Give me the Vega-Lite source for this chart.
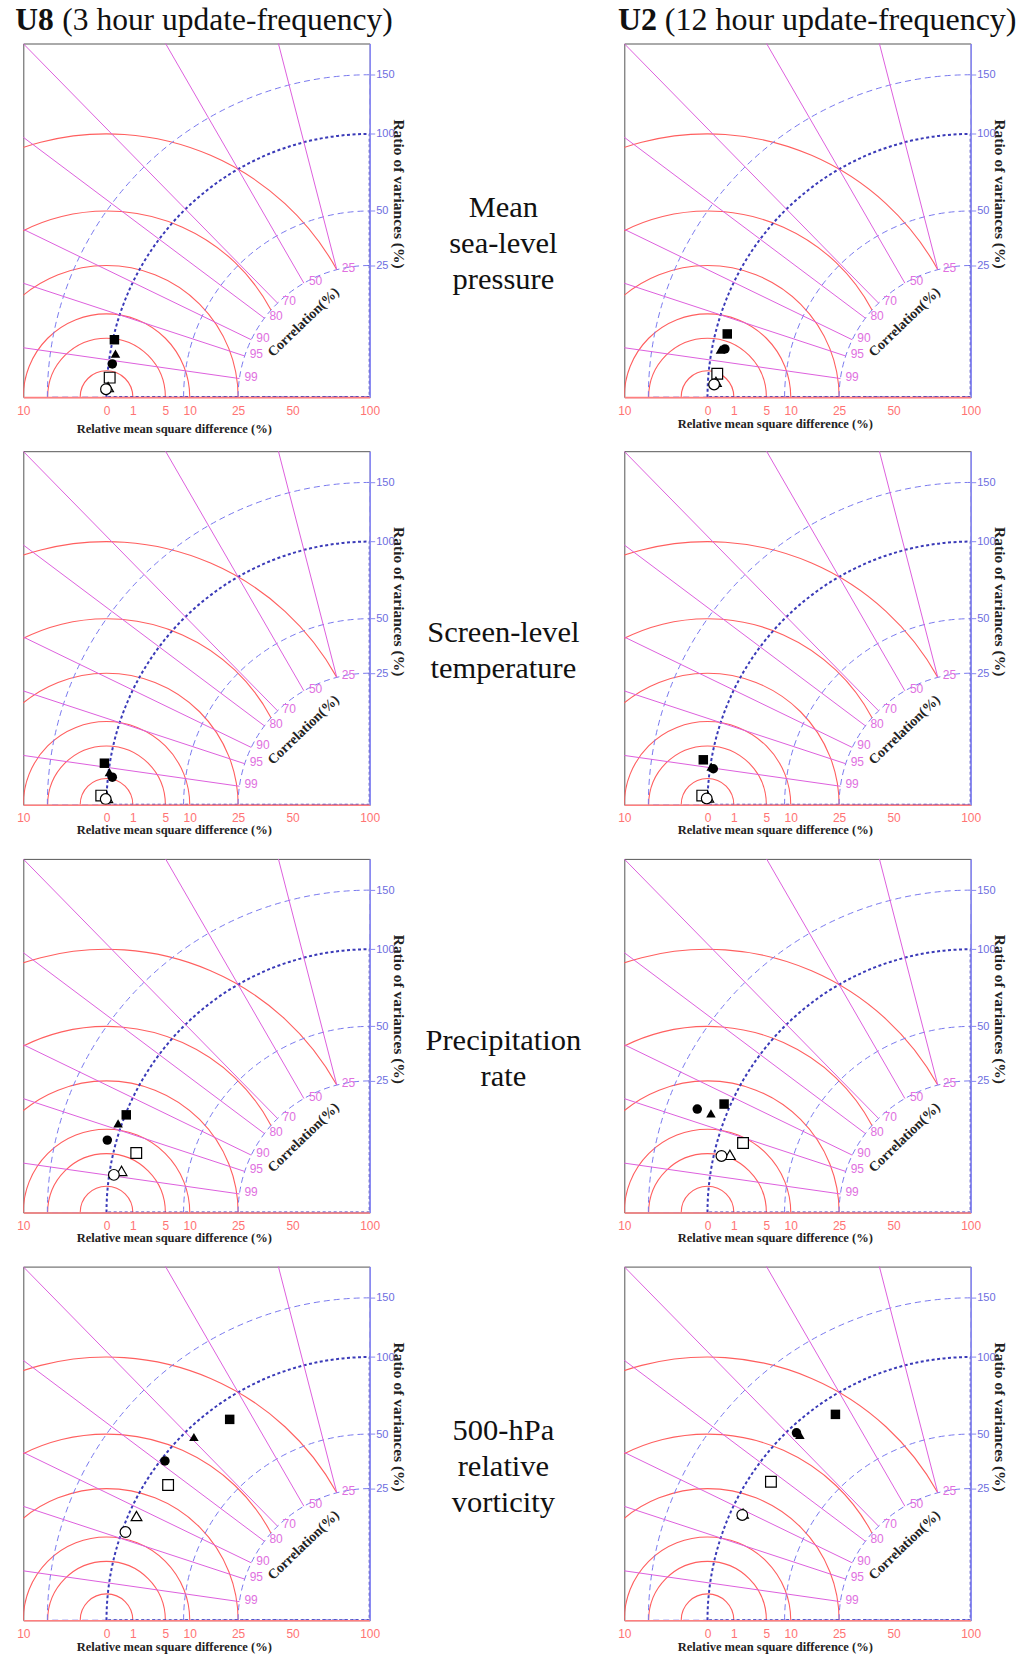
{
"$schema": "https://vega.github.io/schema/vega-lite/v6.json",
"padding": {"left": 14.3, "top": 2.5, "right": 0, "bottom": 0},
"background": "white",
"config": {
  "view": {"stroke": "#555555", "strokeWidth": 1},
  "axis": {"labelFont": "Liberation Sans Narrow, Liberation Sans, sans-serif"}
},
"datasets": {
  "redArcs": [
    {"u": 1, "v": 0, "r": 0.1, "t1": -1.5708, "t2": 1.5708},
    {"u": 1, "v": 0, "r": 0.22361, "t1": -1.5708, "t2": 1.5708},
    {"u": 1, "v": 0, "r": 0.31623, "t1": -1.5708, "t2": 1.5708},
    {"u": 1, "v": 0, "r": 0.5, "t1": -1.5708, "t2": 1.5708},
    {"u": 1, "v": 0, "r": 0.70711, "t1": -1.5708, "t2": 1.084},
    {"u": 1, "v": 0, "r": 1.0, "t1": -1.5708, "t2": 1.0654}
  ],
  "stdArcs": [
    {"u": 0, "v": 0, "r": 0.5, "t1": -1.5708, "t2": 0},
    {"u": 0, "v": 0, "r": 0.70711, "t1": -1.5708, "t2": 0},
    {"u": 0, "v": 0, "r": 1.22474, "t1": -1.5708, "t2": 0}
  ],
  "refArc": [
    {"u": 0, "v": 0, "r": 1.0, "t1": -1.5708, "t2": 0}
  ],
  "corr": [
    {"label": "99", "u": 0.495, "v": 0.070534, "u2": 1.98, "v2": 0.282135},
    {"label": "95", "u": 0.475, "v": 0.156125, "u2": 1.9, "v2": 0.6245},
    {"label": "90", "u": 0.45, "v": 0.217945, "u2": 1.8, "v2": 0.87178},
    {"label": "80", "u": 0.4, "v": 0.3, "u2": 1.6, "v2": 1.2},
    {"label": "70", "u": 0.35, "v": 0.357071, "u2": 1.4, "v2": 1.428286},
    {"label": "50", "u": 0.25, "v": 0.433013, "u2": 1.0, "v2": 1.732051},
    {"label": "25", "u": 0.125, "v": 0.484123, "u2": 0.5, "v2": 1.936492}
  ],
  "corrTitle": [{"label": "Correlation(%)", "u": 0.251, "v": 0.284}],
  "markers": [
    {"model": "U8", "variable": "MSLP", "symbol": "square", "style": "filled", "u": 0.970, "v": 0.218},
    {"model": "U8", "variable": "MSLP", "symbol": "triangle", "style": "filled", "u": 0.966, "v": 0.165},
    {"model": "U8", "variable": "MSLP", "symbol": "circle", "style": "filled", "u": 0.978, "v": 0.126},
    {"model": "U8", "variable": "MSLP", "symbol": "square", "style": "open", "u": 0.988, "v": 0.074},
    {"model": "U8", "variable": "MSLP", "symbol": "triangle", "style": "open", "u": 0.994, "v": 0.038},
    {"model": "U8", "variable": "MSLP", "symbol": "circle", "style": "open", "u": 1.002, "v": 0.030},
    {"model": "U2", "variable": "MSLP", "symbol": "square", "style": "filled", "u": 0.925, "v": 0.240},
    {"model": "U2", "variable": "MSLP", "symbol": "triangle", "style": "filled", "u": 0.951, "v": 0.180},
    {"model": "U2", "variable": "MSLP", "symbol": "circle", "style": "filled", "u": 0.934, "v": 0.183},
    {"model": "U2", "variable": "MSLP", "symbol": "square", "style": "open", "u": 0.963, "v": 0.089},
    {"model": "U2", "variable": "MSLP", "symbol": "triangle", "style": "open", "u": 0.968, "v": 0.058},
    {"model": "U2", "variable": "MSLP", "symbol": "circle", "style": "open", "u": 0.975, "v": 0.048},
    {"model": "U8", "variable": "T", "symbol": "square", "style": "filled", "u": 1.008, "v": 0.158},
    {"model": "U8", "variable": "T", "symbol": "triangle", "style": "filled", "u": 0.989, "v": 0.124},
    {"model": "U8", "variable": "T", "symbol": "circle", "style": "filled", "u": 0.978, "v": 0.105},
    {"model": "U8", "variable": "T", "symbol": "square", "style": "open", "u": 1.020, "v": 0.035},
    {"model": "U8", "variable": "T", "symbol": "triangle", "style": "open", "u": 0.997, "v": 0.026},
    {"model": "U8", "variable": "T", "symbol": "circle", "style": "open", "u": 1.003, "v": 0.022},
    {"model": "U2", "variable": "T", "symbol": "square", "style": "filled", "u": 1.016, "v": 0.171},
    {"model": "U2", "variable": "T", "symbol": "triangle", "style": "filled", "u": 0.986, "v": 0.145},
    {"model": "U2", "variable": "T", "symbol": "circle", "style": "filled", "u": 0.978, "v": 0.137},
    {"model": "U2", "variable": "T", "symbol": "square", "style": "open", "u": 1.020, "v": 0.035},
    {"model": "U2", "variable": "T", "symbol": "triangle", "style": "open", "u": 0.997, "v": 0.028},
    {"model": "U2", "variable": "T", "symbol": "circle", "style": "open", "u": 1.003, "v": 0.024},
    {"model": "U8", "variable": "PR", "symbol": "square", "style": "filled", "u": 0.925, "v": 0.371},
    {"model": "U8", "variable": "PR", "symbol": "triangle", "style": "filled", "u": 0.956, "v": 0.339},
    {"model": "U8", "variable": "PR", "symbol": "circle", "style": "filled", "u": 0.997, "v": 0.275},
    {"model": "U8", "variable": "PR", "symbol": "square", "style": "open", "u": 0.887, "v": 0.226},
    {"model": "U8", "variable": "PR", "symbol": "triangle", "style": "open", "u": 0.943, "v": 0.158},
    {"model": "U8", "variable": "PR", "symbol": "circle", "style": "open", "u": 0.972, "v": 0.143},
    {"model": "U2", "variable": "PR", "symbol": "square", "style": "filled", "u": 0.937, "v": 0.412},
    {"model": "U2", "variable": "PR", "symbol": "triangle", "style": "filled", "u": 0.987, "v": 0.377},
    {"model": "U2", "variable": "PR", "symbol": "circle", "style": "filled", "u": 1.039, "v": 0.393},
    {"model": "U2", "variable": "PR", "symbol": "square", "style": "open", "u": 0.865, "v": 0.264},
    {"model": "U2", "variable": "PR", "symbol": "triangle", "style": "open", "u": 0.915, "v": 0.219},
    {"model": "U2", "variable": "PR", "symbol": "circle", "style": "open", "u": 0.947, "v": 0.215},
    {"model": "U8", "variable": "VORT", "symbol": "square", "style": "filled", "u": 0.532, "v": 0.763},
    {"model": "U8", "variable": "VORT", "symbol": "triangle", "style": "filled", "u": 0.668, "v": 0.696},
    {"model": "U8", "variable": "VORT", "symbol": "circle", "style": "filled", "u": 0.778, "v": 0.605},
    {"model": "U8", "variable": "VORT", "symbol": "square", "style": "open", "u": 0.766, "v": 0.514},
    {"model": "U8", "variable": "VORT", "symbol": "triangle", "style": "open", "u": 0.886, "v": 0.396},
    {"model": "U8", "variable": "VORT", "symbol": "circle", "style": "open", "u": 0.928, "v": 0.335},
    {"model": "U2", "variable": "VORT", "symbol": "square", "style": "filled", "u": 0.514, "v": 0.782},
    {"model": "U2", "variable": "VORT", "symbol": "triangle", "style": "filled", "u": 0.649, "v": 0.704},
    {"model": "U2", "variable": "VORT", "symbol": "circle", "style": "filled", "u": 0.662, "v": 0.712},
    {"model": "U2", "variable": "VORT", "symbol": "square", "style": "open", "u": 0.759, "v": 0.526},
    {"model": "U2", "variable": "VORT", "symbol": "triangle", "style": "open", "u": 0.865, "v": 0.405},
    {"model": "U2", "variable": "VORT", "symbol": "circle", "style": "open", "u": 0.868, "v": 0.400}
  ]
},
"bounds": "flush",
"columns": 3,
"spacing": {"row": 53.7, "column": 0},
"concat": [
  {"width": 346.4, "height": 353.6,
   "encoding": {
     "x": {"field": "u", "type": "quantitative", "scale": {"domain": [0, 1.3162], "reverse": true, "nice": false, "zero": false},
           "axis": {"orient": "bottom", "values": [1.3162, 1, 0.9, 0.77639, 0.68377, 0.5, 0.29289, 0], "labelExpr": "datum.value > 1.2 ? '10' : datum.value > 0.95 ? '0' : datum.value > 0.85 ? '1' : datum.value > 0.73 ? '5' : datum.value > 0.6 ? '10' : datum.value > 0.4 ? '25' : datum.value > 0.2 ? '50' : '100'", "ticks": false, "grid": false, "domainColor": "#ff7f7f", "domainWidth": 1.6, "labelColor": "#ff7373", "labelFontSize": 12, "labelPadding": 8, "labelAlign": "center", "labelBound": false, "labelFlush": false, "labelOverlap": false, "title": "Relative mean square difference (%)", "titleFont": "Liberation Serif", "titleFontWeight": "bold", "titleFontSize": 12.5, "titleColor": "#222222", "titleX": 150.5, "titleY": 31, "titleAlign": "center", "titleBaseline": "middle", "zindex": 1}},
     "y": {"field": "v", "type": "quantitative", "scale": {"domain": [0, 1.3435], "nice": false, "zero": false},
           "axis": {"orient": "right", "values": [0.5, 0.70711, 1, 1.22474], "labelExpr": "datum.value > 1.1 ? '150' : datum.value > 0.9 ? '100' : datum.value > 0.6 ? '50' : '25'", "grid": false, "ticks": true, "tickSize": 5, "tickColor": "#8a8af2", "domainColor": "#8a8af2", "domainWidth": 1.6, "labelColor": "#6d6de0", "labelFontSize": 11, "labelPadding": 1, "labelBaseline": "middle", "labelAlign": "left", "labelBound": false, "labelFlush": false, "labelOverlap": false, "title": "Ratio of variances (%)", "titleFont": "Liberation Serif", "titleFontWeight": "bold", "titleFontSize": 15.5, "titleColor": "#222222", "titleAngle": 90, "titleX": 28.5, "titleY": 150, "titleAlign": "center", "titleBaseline": "middle", "zindex": 1}}
   },
   "layer": [
     {"data": {"name": "redArcs"}, "mark": {"type": "arc", "filled": false, "stroke": "#ff5f5f", "strokeWidth": 1.1, "clip": true},
      "encoding": {"theta": {"field": "t1", "type": "quantitative", "scale": null, "stack": null}, "theta2": {"field": "t2"}, "radius": {"field": "r", "type": "quantitative", "scale": {"type": "linear", "domain": [0, 1], "range": [0, 263.2]}}, "radius2": {"field": "r"}}},
     {"data": {"name": "stdArcs"}, "mark": {"type": "arc", "filled": false, "stroke": "#7878ee", "strokeWidth": 1, "strokeDash": [6, 4], "clip": true},
      "encoding": {"theta": {"field": "t1", "type": "quantitative", "scale": null, "stack": null}, "theta2": {"field": "t2"}, "radius": {"field": "r", "type": "quantitative", "scale": {"type": "linear", "domain": [0, 1], "range": [0, 263.2]}}}},
     {"data": {"name": "refArc"}, "mark": {"type": "arc", "filled": false, "stroke": "#3a3ab8", "strokeWidth": 2, "strokeDash": [3, 2.5], "clip": true},
      "encoding": {"theta": {"field": "t1", "type": "quantitative", "scale": null, "stack": null}, "theta2": {"field": "t2"}, "radius": {"field": "r", "type": "quantitative", "scale": {"type": "linear", "domain": [0, 1], "range": [0, 263.2]}}}},
     {"data": {"name": "corr"}, "mark": {"type": "rule", "stroke": "#dd5fdd", "strokeWidth": 1, "clip": true},
      "encoding": {"x2": {"field": "u2"}, "y2": {"field": "v2"}}},
     {"data": {"name": "corr"}, "mark": {"type": "text", "align": "left", "baseline": "middle", "dx": 5, "dy": -2, "font": "Liberation Sans", "fontSize": 12, "color": "#e070e0"},
      "encoding": {"text": {"field": "label", "type": "nominal"}}},
     {"data": {"name": "corrTitle"}, "mark": {"type": "text", "align": "center", "baseline": "middle", "angle": 316, "font": "Liberation Serif", "fontWeight": "bold", "fontSize": 14, "color": "#222222"},
      "encoding": {"text": {"field": "label", "type": "nominal"}}},
     {"data": {"name": "markers"}, "transform": [{"filter": "datum.model == 'U8' && datum.variable == 'MSLP' && datum.style == 'open'"}],
      "mark": {"type": "point", "fill": "white", "stroke": "black", "strokeWidth": 1.2, "size": 115, "opacity": 1},
      "encoding": {"shape": {"field": "symbol", "type": "nominal", "scale": {"domain": ["square", "triangle", "circle"], "range": ["square", "triangle-up", "circle"]}, "legend": null}}},
     {"data": {"name": "markers"}, "transform": [{"filter": "datum.model == 'U8' && datum.variable == 'MSLP' && datum.style == 'filled'"}],
      "mark": {"type": "point", "filled": true, "color": "black", "size": 90, "opacity": 1},
      "encoding": {"shape": {"field": "symbol", "type": "nominal", "scale": {"domain": ["square", "triangle", "circle"], "range": ["square", "triangle-up", "circle"]}, "legend": null}}},
     {"data": {"values": [{"model": "U8", "desc": "(3  hour update-frequency)"}]},
      "mark": {"type": "text", "align": "left", "baseline": "alphabetic", "font": "Liberation Serif", "fontWeight": "bold", "fontSize": 31.5, "dx": -8, "color": "#111111"},
      "encoding": {"x": {"value": 0}, "y": {"value": -13.7}, "text": {"field": "model", "type": "nominal"}}},
     {"data": {"values": [{"model": "U8", "desc": "(3  hour update-frequency)"}]},
      "mark": {"type": "text", "align": "left", "baseline": "alphabetic", "font": "Liberation Serif", "fontSize": 31.5, "dx": 39, "color": "#111111"},
      "encoding": {"x": {"value": 0}, "y": {"value": -13.7}, "text": {"field": "desc", "type": "nominal"}}}
   ]},
  {"width": 253.6, "height": 353.6, "view": {"stroke": null},
   "data": {"values": [{"lines": ["Mean", "sea-level", "pressure"]}]},
   "mark": {"type": "text", "align": "center", "baseline": "middle", "font": "Liberation Serif", "fontSize": 30.5, "lineHeight": 36, "dx": 6.3, "dy": -12.5, "color": "#111111"},
   "encoding": {"text": {"field": "lines", "type": "nominal"}}},
  {"width": 346.4, "height": 353.6,
   "encoding": {
     "x": {"field": "u", "type": "quantitative", "scale": {"domain": [0, 1.3162], "reverse": true, "nice": false, "zero": false},
           "axis": {"orient": "bottom", "values": [1.3162, 1, 0.9, 0.77639, 0.68377, 0.5, 0.29289, 0], "labelExpr": "datum.value > 1.2 ? '10' : datum.value > 0.95 ? '0' : datum.value > 0.85 ? '1' : datum.value > 0.73 ? '5' : datum.value > 0.6 ? '10' : datum.value > 0.4 ? '25' : datum.value > 0.2 ? '50' : '100'", "ticks": false, "grid": false, "domainColor": "#ff7f7f", "domainWidth": 1.6, "labelColor": "#ff7373", "labelFontSize": 12, "labelPadding": 8, "labelAlign": "center", "labelBound": false, "labelFlush": false, "labelOverlap": false, "title": "Relative mean square difference (%)", "titleFont": "Liberation Serif", "titleFontWeight": "bold", "titleFontSize": 12.5, "titleColor": "#222222", "titleX": 150.5, "titleY": 26, "titleAlign": "center", "titleBaseline": "middle", "zindex": 1}},
     "y": {"field": "v", "type": "quantitative", "scale": {"domain": [0, 1.3435], "nice": false, "zero": false},
           "axis": {"orient": "right", "values": [0.5, 0.70711, 1, 1.22474], "labelExpr": "datum.value > 1.1 ? '150' : datum.value > 0.9 ? '100' : datum.value > 0.6 ? '50' : '25'", "grid": false, "ticks": true, "tickSize": 5, "tickColor": "#8a8af2", "domainColor": "#8a8af2", "domainWidth": 1.6, "labelColor": "#6d6de0", "labelFontSize": 11, "labelPadding": 1, "labelBaseline": "middle", "labelAlign": "left", "labelBound": false, "labelFlush": false, "labelOverlap": false, "title": "Ratio of variances (%)", "titleFont": "Liberation Serif", "titleFontWeight": "bold", "titleFontSize": 15.5, "titleColor": "#222222", "titleAngle": 90, "titleX": 28.5, "titleY": 150, "titleAlign": "center", "titleBaseline": "middle", "zindex": 1}}
   },
   "layer": [
     {"data": {"name": "redArcs"}, "mark": {"type": "arc", "filled": false, "stroke": "#ff5f5f", "strokeWidth": 1.1, "clip": true},
      "encoding": {"theta": {"field": "t1", "type": "quantitative", "scale": null, "stack": null}, "theta2": {"field": "t2"}, "radius": {"field": "r", "type": "quantitative", "scale": {"type": "linear", "domain": [0, 1], "range": [0, 263.2]}}, "radius2": {"field": "r"}}},
     {"data": {"name": "stdArcs"}, "mark": {"type": "arc", "filled": false, "stroke": "#7878ee", "strokeWidth": 1, "strokeDash": [6, 4], "clip": true},
      "encoding": {"theta": {"field": "t1", "type": "quantitative", "scale": null, "stack": null}, "theta2": {"field": "t2"}, "radius": {"field": "r", "type": "quantitative", "scale": {"type": "linear", "domain": [0, 1], "range": [0, 263.2]}}}},
     {"data": {"name": "refArc"}, "mark": {"type": "arc", "filled": false, "stroke": "#3a3ab8", "strokeWidth": 2, "strokeDash": [3, 2.5], "clip": true},
      "encoding": {"theta": {"field": "t1", "type": "quantitative", "scale": null, "stack": null}, "theta2": {"field": "t2"}, "radius": {"field": "r", "type": "quantitative", "scale": {"type": "linear", "domain": [0, 1], "range": [0, 263.2]}}}},
     {"data": {"name": "corr"}, "mark": {"type": "rule", "stroke": "#dd5fdd", "strokeWidth": 1, "clip": true},
      "encoding": {"x2": {"field": "u2"}, "y2": {"field": "v2"}}},
     {"data": {"name": "corr"}, "mark": {"type": "text", "align": "left", "baseline": "middle", "dx": 5, "dy": -2, "font": "Liberation Sans", "fontSize": 12, "color": "#e070e0"},
      "encoding": {"text": {"field": "label", "type": "nominal"}}},
     {"data": {"name": "corrTitle"}, "mark": {"type": "text", "align": "center", "baseline": "middle", "angle": 316, "font": "Liberation Serif", "fontWeight": "bold", "fontSize": 14, "color": "#222222"},
      "encoding": {"text": {"field": "label", "type": "nominal"}}},
     {"data": {"name": "markers"}, "transform": [{"filter": "datum.model == 'U2' && datum.variable == 'MSLP' && datum.style == 'open'"}],
      "mark": {"type": "point", "fill": "white", "stroke": "black", "strokeWidth": 1.2, "size": 115, "opacity": 1},
      "encoding": {"shape": {"field": "symbol", "type": "nominal", "scale": {"domain": ["square", "triangle", "circle"], "range": ["square", "triangle-up", "circle"]}, "legend": null}}},
     {"data": {"name": "markers"}, "transform": [{"filter": "datum.model == 'U2' && datum.variable == 'MSLP' && datum.style == 'filled'"}],
      "mark": {"type": "point", "filled": true, "color": "black", "size": 90, "opacity": 1},
      "encoding": {"shape": {"field": "symbol", "type": "nominal", "scale": {"domain": ["square", "triangle", "circle"], "range": ["square", "triangle-up", "circle"]}, "legend": null}}},
     {"data": {"values": [{"model": "U2", "desc": "(12 hour update-frequency)"}]},
      "mark": {"type": "text", "align": "left", "baseline": "alphabetic", "font": "Liberation Serif", "fontWeight": "bold", "fontSize": 32, "dx": -6.3, "color": "#111111"},
      "encoding": {"x": {"value": 0}, "y": {"value": -13.7}, "text": {"field": "model", "type": "nominal"}}},
     {"data": {"values": [{"model": "U2", "desc": "(12 hour update-frequency)"}]},
      "mark": {"type": "text", "align": "left", "baseline": "alphabetic", "font": "Liberation Serif", "fontSize": 32, "dx": 40.5, "color": "#111111"},
      "encoding": {"x": {"value": 0}, "y": {"value": -13.7}, "text": {"field": "desc", "type": "nominal"}}}
   ]},
  {"width": 346.4, "height": 353.6,
   "encoding": {
     "x": {"field": "u", "type": "quantitative", "scale": {"domain": [0, 1.3162], "reverse": true, "nice": false, "zero": false},
           "axis": {"orient": "bottom", "values": [1.3162, 1, 0.9, 0.77639, 0.68377, 0.5, 0.29289, 0], "labelExpr": "datum.value > 1.2 ? '10' : datum.value > 0.95 ? '0' : datum.value > 0.85 ? '1' : datum.value > 0.73 ? '5' : datum.value > 0.6 ? '10' : datum.value > 0.4 ? '25' : datum.value > 0.2 ? '50' : '100'", "ticks": false, "grid": false, "domainColor": "#ff7f7f", "domainWidth": 1.6, "labelColor": "#ff7373", "labelFontSize": 12, "labelPadding": 8, "labelAlign": "center", "labelBound": false, "labelFlush": false, "labelOverlap": false, "title": "Relative mean square difference (%)", "titleFont": "Liberation Serif", "titleFontWeight": "bold", "titleFontSize": 12.5, "titleColor": "#222222", "titleX": 150.5, "titleY": 25, "titleAlign": "center", "titleBaseline": "middle", "zindex": 1}},
     "y": {"field": "v", "type": "quantitative", "scale": {"domain": [0, 1.3435], "nice": false, "zero": false},
           "axis": {"orient": "right", "values": [0.5, 0.70711, 1, 1.22474], "labelExpr": "datum.value > 1.1 ? '150' : datum.value > 0.9 ? '100' : datum.value > 0.6 ? '50' : '25'", "grid": false, "ticks": true, "tickSize": 5, "tickColor": "#8a8af2", "domainColor": "#8a8af2", "domainWidth": 1.6, "labelColor": "#6d6de0", "labelFontSize": 11, "labelPadding": 1, "labelBaseline": "middle", "labelAlign": "left", "labelBound": false, "labelFlush": false, "labelOverlap": false, "title": "Ratio of variances (%)", "titleFont": "Liberation Serif", "titleFontWeight": "bold", "titleFontSize": 15.5, "titleColor": "#222222", "titleAngle": 90, "titleX": 28.5, "titleY": 150, "titleAlign": "center", "titleBaseline": "middle", "zindex": 1}}
   },
   "layer": [
     {"data": {"name": "redArcs"}, "mark": {"type": "arc", "filled": false, "stroke": "#ff5f5f", "strokeWidth": 1.1, "clip": true},
      "encoding": {"theta": {"field": "t1", "type": "quantitative", "scale": null, "stack": null}, "theta2": {"field": "t2"}, "radius": {"field": "r", "type": "quantitative", "scale": {"type": "linear", "domain": [0, 1], "range": [0, 263.2]}}, "radius2": {"field": "r"}}},
     {"data": {"name": "stdArcs"}, "mark": {"type": "arc", "filled": false, "stroke": "#7878ee", "strokeWidth": 1, "strokeDash": [6, 4], "clip": true},
      "encoding": {"theta": {"field": "t1", "type": "quantitative", "scale": null, "stack": null}, "theta2": {"field": "t2"}, "radius": {"field": "r", "type": "quantitative", "scale": {"type": "linear", "domain": [0, 1], "range": [0, 263.2]}}}},
     {"data": {"name": "refArc"}, "mark": {"type": "arc", "filled": false, "stroke": "#3a3ab8", "strokeWidth": 2, "strokeDash": [3, 2.5], "clip": true},
      "encoding": {"theta": {"field": "t1", "type": "quantitative", "scale": null, "stack": null}, "theta2": {"field": "t2"}, "radius": {"field": "r", "type": "quantitative", "scale": {"type": "linear", "domain": [0, 1], "range": [0, 263.2]}}}},
     {"data": {"name": "corr"}, "mark": {"type": "rule", "stroke": "#dd5fdd", "strokeWidth": 1, "clip": true},
      "encoding": {"x2": {"field": "u2"}, "y2": {"field": "v2"}}},
     {"data": {"name": "corr"}, "mark": {"type": "text", "align": "left", "baseline": "middle", "dx": 5, "dy": -2, "font": "Liberation Sans", "fontSize": 12, "color": "#e070e0"},
      "encoding": {"text": {"field": "label", "type": "nominal"}}},
     {"data": {"name": "corrTitle"}, "mark": {"type": "text", "align": "center", "baseline": "middle", "angle": 316, "font": "Liberation Serif", "fontWeight": "bold", "fontSize": 14, "color": "#222222"},
      "encoding": {"text": {"field": "label", "type": "nominal"}}},
     {"data": {"name": "markers"}, "transform": [{"filter": "datum.model == 'U8' && datum.variable == 'T' && datum.style == 'open'"}],
      "mark": {"type": "point", "fill": "white", "stroke": "black", "strokeWidth": 1.2, "size": 115, "opacity": 1},
      "encoding": {"shape": {"field": "symbol", "type": "nominal", "scale": {"domain": ["square", "triangle", "circle"], "range": ["square", "triangle-up", "circle"]}, "legend": null}}},
     {"data": {"name": "markers"}, "transform": [{"filter": "datum.model == 'U8' && datum.variable == 'T' && datum.style == 'filled'"}],
      "mark": {"type": "point", "filled": true, "color": "black", "size": 90, "opacity": 1},
      "encoding": {"shape": {"field": "symbol", "type": "nominal", "scale": {"domain": ["square", "triangle", "circle"], "range": ["square", "triangle-up", "circle"]}, "legend": null}}}
   ]},
  {"width": 253.6, "height": 353.6, "view": {"stroke": null},
   "data": {"values": [{"lines": ["Screen-level", "temperature"]}]},
   "mark": {"type": "text", "align": "center", "baseline": "middle", "font": "Liberation Serif", "fontSize": 30.5, "lineHeight": 36, "dx": 6.3, "dy": 5, "color": "#111111"},
   "encoding": {"text": {"field": "lines", "type": "nominal"}}},
  {"width": 346.4, "height": 353.6,
   "encoding": {
     "x": {"field": "u", "type": "quantitative", "scale": {"domain": [0, 1.3162], "reverse": true, "nice": false, "zero": false},
           "axis": {"orient": "bottom", "values": [1.3162, 1, 0.9, 0.77639, 0.68377, 0.5, 0.29289, 0], "labelExpr": "datum.value > 1.2 ? '10' : datum.value > 0.95 ? '0' : datum.value > 0.85 ? '1' : datum.value > 0.73 ? '5' : datum.value > 0.6 ? '10' : datum.value > 0.4 ? '25' : datum.value > 0.2 ? '50' : '100'", "ticks": false, "grid": false, "domainColor": "#ff7f7f", "domainWidth": 1.6, "labelColor": "#ff7373", "labelFontSize": 12, "labelPadding": 8, "labelAlign": "center", "labelBound": false, "labelFlush": false, "labelOverlap": false, "title": "Relative mean square difference (%)", "titleFont": "Liberation Serif", "titleFontWeight": "bold", "titleFontSize": 12.5, "titleColor": "#222222", "titleX": 150.5, "titleY": 25, "titleAlign": "center", "titleBaseline": "middle", "zindex": 1}},
     "y": {"field": "v", "type": "quantitative", "scale": {"domain": [0, 1.3435], "nice": false, "zero": false},
           "axis": {"orient": "right", "values": [0.5, 0.70711, 1, 1.22474], "labelExpr": "datum.value > 1.1 ? '150' : datum.value > 0.9 ? '100' : datum.value > 0.6 ? '50' : '25'", "grid": false, "ticks": true, "tickSize": 5, "tickColor": "#8a8af2", "domainColor": "#8a8af2", "domainWidth": 1.6, "labelColor": "#6d6de0", "labelFontSize": 11, "labelPadding": 1, "labelBaseline": "middle", "labelAlign": "left", "labelBound": false, "labelFlush": false, "labelOverlap": false, "title": "Ratio of variances (%)", "titleFont": "Liberation Serif", "titleFontWeight": "bold", "titleFontSize": 15.5, "titleColor": "#222222", "titleAngle": 90, "titleX": 28.5, "titleY": 150, "titleAlign": "center", "titleBaseline": "middle", "zindex": 1}}
   },
   "layer": [
     {"data": {"name": "redArcs"}, "mark": {"type": "arc", "filled": false, "stroke": "#ff5f5f", "strokeWidth": 1.1, "clip": true},
      "encoding": {"theta": {"field": "t1", "type": "quantitative", "scale": null, "stack": null}, "theta2": {"field": "t2"}, "radius": {"field": "r", "type": "quantitative", "scale": {"type": "linear", "domain": [0, 1], "range": [0, 263.2]}}, "radius2": {"field": "r"}}},
     {"data": {"name": "stdArcs"}, "mark": {"type": "arc", "filled": false, "stroke": "#7878ee", "strokeWidth": 1, "strokeDash": [6, 4], "clip": true},
      "encoding": {"theta": {"field": "t1", "type": "quantitative", "scale": null, "stack": null}, "theta2": {"field": "t2"}, "radius": {"field": "r", "type": "quantitative", "scale": {"type": "linear", "domain": [0, 1], "range": [0, 263.2]}}}},
     {"data": {"name": "refArc"}, "mark": {"type": "arc", "filled": false, "stroke": "#3a3ab8", "strokeWidth": 2, "strokeDash": [3, 2.5], "clip": true},
      "encoding": {"theta": {"field": "t1", "type": "quantitative", "scale": null, "stack": null}, "theta2": {"field": "t2"}, "radius": {"field": "r", "type": "quantitative", "scale": {"type": "linear", "domain": [0, 1], "range": [0, 263.2]}}}},
     {"data": {"name": "corr"}, "mark": {"type": "rule", "stroke": "#dd5fdd", "strokeWidth": 1, "clip": true},
      "encoding": {"x2": {"field": "u2"}, "y2": {"field": "v2"}}},
     {"data": {"name": "corr"}, "mark": {"type": "text", "align": "left", "baseline": "middle", "dx": 5, "dy": -2, "font": "Liberation Sans", "fontSize": 12, "color": "#e070e0"},
      "encoding": {"text": {"field": "label", "type": "nominal"}}},
     {"data": {"name": "corrTitle"}, "mark": {"type": "text", "align": "center", "baseline": "middle", "angle": 316, "font": "Liberation Serif", "fontWeight": "bold", "fontSize": 14, "color": "#222222"},
      "encoding": {"text": {"field": "label", "type": "nominal"}}},
     {"data": {"name": "markers"}, "transform": [{"filter": "datum.model == 'U2' && datum.variable == 'T' && datum.style == 'open'"}],
      "mark": {"type": "point", "fill": "white", "stroke": "black", "strokeWidth": 1.2, "size": 115, "opacity": 1},
      "encoding": {"shape": {"field": "symbol", "type": "nominal", "scale": {"domain": ["square", "triangle", "circle"], "range": ["square", "triangle-up", "circle"]}, "legend": null}}},
     {"data": {"name": "markers"}, "transform": [{"filter": "datum.model == 'U2' && datum.variable == 'T' && datum.style == 'filled'"}],
      "mark": {"type": "point", "filled": true, "color": "black", "size": 90, "opacity": 1},
      "encoding": {"shape": {"field": "symbol", "type": "nominal", "scale": {"domain": ["square", "triangle", "circle"], "range": ["square", "triangle-up", "circle"]}, "legend": null}}}
   ]},
  {"width": 346.4, "height": 353.6,
   "encoding": {
     "x": {"field": "u", "type": "quantitative", "scale": {"domain": [0, 1.3162], "reverse": true, "nice": false, "zero": false},
           "axis": {"orient": "bottom", "values": [1.3162, 1, 0.9, 0.77639, 0.68377, 0.5, 0.29289, 0], "labelExpr": "datum.value > 1.2 ? '10' : datum.value > 0.95 ? '0' : datum.value > 0.85 ? '1' : datum.value > 0.73 ? '5' : datum.value > 0.6 ? '10' : datum.value > 0.4 ? '25' : datum.value > 0.2 ? '50' : '100'", "ticks": false, "grid": false, "domainColor": "#ff7f7f", "domainWidth": 1.6, "labelColor": "#ff7373", "labelFontSize": 12, "labelPadding": 8, "labelAlign": "center", "labelBound": false, "labelFlush": false, "labelOverlap": false, "title": "Relative mean square difference (%)", "titleFont": "Liberation Serif", "titleFontWeight": "bold", "titleFontSize": 12.5, "titleColor": "#222222", "titleX": 150.5, "titleY": 25, "titleAlign": "center", "titleBaseline": "middle", "zindex": 1}},
     "y": {"field": "v", "type": "quantitative", "scale": {"domain": [0, 1.3435], "nice": false, "zero": false},
           "axis": {"orient": "right", "values": [0.5, 0.70711, 1, 1.22474], "labelExpr": "datum.value > 1.1 ? '150' : datum.value > 0.9 ? '100' : datum.value > 0.6 ? '50' : '25'", "grid": false, "ticks": true, "tickSize": 5, "tickColor": "#8a8af2", "domainColor": "#8a8af2", "domainWidth": 1.6, "labelColor": "#6d6de0", "labelFontSize": 11, "labelPadding": 1, "labelBaseline": "middle", "labelAlign": "left", "labelBound": false, "labelFlush": false, "labelOverlap": false, "title": "Ratio of variances (%)", "titleFont": "Liberation Serif", "titleFontWeight": "bold", "titleFontSize": 15.5, "titleColor": "#222222", "titleAngle": 90, "titleX": 28.5, "titleY": 150, "titleAlign": "center", "titleBaseline": "middle", "zindex": 1}}
   },
   "layer": [
     {"data": {"name": "redArcs"}, "mark": {"type": "arc", "filled": false, "stroke": "#ff5f5f", "strokeWidth": 1.1, "clip": true},
      "encoding": {"theta": {"field": "t1", "type": "quantitative", "scale": null, "stack": null}, "theta2": {"field": "t2"}, "radius": {"field": "r", "type": "quantitative", "scale": {"type": "linear", "domain": [0, 1], "range": [0, 263.2]}}, "radius2": {"field": "r"}}},
     {"data": {"name": "stdArcs"}, "mark": {"type": "arc", "filled": false, "stroke": "#7878ee", "strokeWidth": 1, "strokeDash": [6, 4], "clip": true},
      "encoding": {"theta": {"field": "t1", "type": "quantitative", "scale": null, "stack": null}, "theta2": {"field": "t2"}, "radius": {"field": "r", "type": "quantitative", "scale": {"type": "linear", "domain": [0, 1], "range": [0, 263.2]}}}},
     {"data": {"name": "refArc"}, "mark": {"type": "arc", "filled": false, "stroke": "#3a3ab8", "strokeWidth": 2, "strokeDash": [3, 2.5], "clip": true},
      "encoding": {"theta": {"field": "t1", "type": "quantitative", "scale": null, "stack": null}, "theta2": {"field": "t2"}, "radius": {"field": "r", "type": "quantitative", "scale": {"type": "linear", "domain": [0, 1], "range": [0, 263.2]}}}},
     {"data": {"name": "corr"}, "mark": {"type": "rule", "stroke": "#dd5fdd", "strokeWidth": 1, "clip": true},
      "encoding": {"x2": {"field": "u2"}, "y2": {"field": "v2"}}},
     {"data": {"name": "corr"}, "mark": {"type": "text", "align": "left", "baseline": "middle", "dx": 5, "dy": -2, "font": "Liberation Sans", "fontSize": 12, "color": "#e070e0"},
      "encoding": {"text": {"field": "label", "type": "nominal"}}},
     {"data": {"name": "corrTitle"}, "mark": {"type": "text", "align": "center", "baseline": "middle", "angle": 316, "font": "Liberation Serif", "fontWeight": "bold", "fontSize": 14, "color": "#222222"},
      "encoding": {"text": {"field": "label", "type": "nominal"}}},
     {"data": {"name": "markers"}, "transform": [{"filter": "datum.model == 'U8' && datum.variable == 'PR' && datum.style == 'open'"}],
      "mark": {"type": "point", "fill": "white", "stroke": "black", "strokeWidth": 1.2, "size": 115, "opacity": 1},
      "encoding": {"shape": {"field": "symbol", "type": "nominal", "scale": {"domain": ["square", "triangle", "circle"], "range": ["square", "triangle-up", "circle"]}, "legend": null}}},
     {"data": {"name": "markers"}, "transform": [{"filter": "datum.model == 'U8' && datum.variable == 'PR' && datum.style == 'filled'"}],
      "mark": {"type": "point", "filled": true, "color": "black", "size": 90, "opacity": 1},
      "encoding": {"shape": {"field": "symbol", "type": "nominal", "scale": {"domain": ["square", "triangle", "circle"], "range": ["square", "triangle-up", "circle"]}, "legend": null}}}
   ]},
  {"width": 253.6, "height": 353.6, "view": {"stroke": null},
   "data": {"values": [{"lines": ["Precipitation", "rate"]}]},
   "mark": {"type": "text", "align": "center", "baseline": "middle", "font": "Liberation Serif", "fontSize": 30.5, "lineHeight": 36, "dx": 6.3, "dy": 5.5, "color": "#111111"},
   "encoding": {"text": {"field": "lines", "type": "nominal"}}},
  {"width": 346.4, "height": 353.6,
   "encoding": {
     "x": {"field": "u", "type": "quantitative", "scale": {"domain": [0, 1.3162], "reverse": true, "nice": false, "zero": false},
           "axis": {"orient": "bottom", "values": [1.3162, 1, 0.9, 0.77639, 0.68377, 0.5, 0.29289, 0], "labelExpr": "datum.value > 1.2 ? '10' : datum.value > 0.95 ? '0' : datum.value > 0.85 ? '1' : datum.value > 0.73 ? '5' : datum.value > 0.6 ? '10' : datum.value > 0.4 ? '25' : datum.value > 0.2 ? '50' : '100'", "ticks": false, "grid": false, "domainColor": "#ff7f7f", "domainWidth": 1.6, "labelColor": "#ff7373", "labelFontSize": 12, "labelPadding": 8, "labelAlign": "center", "labelBound": false, "labelFlush": false, "labelOverlap": false, "title": "Relative mean square difference (%)", "titleFont": "Liberation Serif", "titleFontWeight": "bold", "titleFontSize": 12.5, "titleColor": "#222222", "titleX": 150.5, "titleY": 25, "titleAlign": "center", "titleBaseline": "middle", "zindex": 1}},
     "y": {"field": "v", "type": "quantitative", "scale": {"domain": [0, 1.3435], "nice": false, "zero": false},
           "axis": {"orient": "right", "values": [0.5, 0.70711, 1, 1.22474], "labelExpr": "datum.value > 1.1 ? '150' : datum.value > 0.9 ? '100' : datum.value > 0.6 ? '50' : '25'", "grid": false, "ticks": true, "tickSize": 5, "tickColor": "#8a8af2", "domainColor": "#8a8af2", "domainWidth": 1.6, "labelColor": "#6d6de0", "labelFontSize": 11, "labelPadding": 1, "labelBaseline": "middle", "labelAlign": "left", "labelBound": false, "labelFlush": false, "labelOverlap": false, "title": "Ratio of variances (%)", "titleFont": "Liberation Serif", "titleFontWeight": "bold", "titleFontSize": 15.5, "titleColor": "#222222", "titleAngle": 90, "titleX": 28.5, "titleY": 150, "titleAlign": "center", "titleBaseline": "middle", "zindex": 1}}
   },
   "layer": [
     {"data": {"name": "redArcs"}, "mark": {"type": "arc", "filled": false, "stroke": "#ff5f5f", "strokeWidth": 1.1, "clip": true},
      "encoding": {"theta": {"field": "t1", "type": "quantitative", "scale": null, "stack": null}, "theta2": {"field": "t2"}, "radius": {"field": "r", "type": "quantitative", "scale": {"type": "linear", "domain": [0, 1], "range": [0, 263.2]}}, "radius2": {"field": "r"}}},
     {"data": {"name": "stdArcs"}, "mark": {"type": "arc", "filled": false, "stroke": "#7878ee", "strokeWidth": 1, "strokeDash": [6, 4], "clip": true},
      "encoding": {"theta": {"field": "t1", "type": "quantitative", "scale": null, "stack": null}, "theta2": {"field": "t2"}, "radius": {"field": "r", "type": "quantitative", "scale": {"type": "linear", "domain": [0, 1], "range": [0, 263.2]}}}},
     {"data": {"name": "refArc"}, "mark": {"type": "arc", "filled": false, "stroke": "#3a3ab8", "strokeWidth": 2, "strokeDash": [3, 2.5], "clip": true},
      "encoding": {"theta": {"field": "t1", "type": "quantitative", "scale": null, "stack": null}, "theta2": {"field": "t2"}, "radius": {"field": "r", "type": "quantitative", "scale": {"type": "linear", "domain": [0, 1], "range": [0, 263.2]}}}},
     {"data": {"name": "corr"}, "mark": {"type": "rule", "stroke": "#dd5fdd", "strokeWidth": 1, "clip": true},
      "encoding": {"x2": {"field": "u2"}, "y2": {"field": "v2"}}},
     {"data": {"name": "corr"}, "mark": {"type": "text", "align": "left", "baseline": "middle", "dx": 5, "dy": -2, "font": "Liberation Sans", "fontSize": 12, "color": "#e070e0"},
      "encoding": {"text": {"field": "label", "type": "nominal"}}},
     {"data": {"name": "corrTitle"}, "mark": {"type": "text", "align": "center", "baseline": "middle", "angle": 316, "font": "Liberation Serif", "fontWeight": "bold", "fontSize": 14, "color": "#222222"},
      "encoding": {"text": {"field": "label", "type": "nominal"}}},
     {"data": {"name": "markers"}, "transform": [{"filter": "datum.model == 'U2' && datum.variable == 'PR' && datum.style == 'open'"}],
      "mark": {"type": "point", "fill": "white", "stroke": "black", "strokeWidth": 1.2, "size": 115, "opacity": 1},
      "encoding": {"shape": {"field": "symbol", "type": "nominal", "scale": {"domain": ["square", "triangle", "circle"], "range": ["square", "triangle-up", "circle"]}, "legend": null}}},
     {"data": {"name": "markers"}, "transform": [{"filter": "datum.model == 'U2' && datum.variable == 'PR' && datum.style == 'filled'"}],
      "mark": {"type": "point", "filled": true, "color": "black", "size": 90, "opacity": 1},
      "encoding": {"shape": {"field": "symbol", "type": "nominal", "scale": {"domain": ["square", "triangle", "circle"], "range": ["square", "triangle-up", "circle"]}, "legend": null}}}
   ]},
  {"width": 346.4, "height": 353.6,
   "encoding": {
     "x": {"field": "u", "type": "quantitative", "scale": {"domain": [0, 1.3162], "reverse": true, "nice": false, "zero": false},
           "axis": {"orient": "bottom", "values": [1.3162, 1, 0.9, 0.77639, 0.68377, 0.5, 0.29289, 0], "labelExpr": "datum.value > 1.2 ? '10' : datum.value > 0.95 ? '0' : datum.value > 0.85 ? '1' : datum.value > 0.73 ? '5' : datum.value > 0.6 ? '10' : datum.value > 0.4 ? '25' : datum.value > 0.2 ? '50' : '100'", "ticks": false, "grid": false, "domainColor": "#ff7f7f", "domainWidth": 1.6, "labelColor": "#ff7373", "labelFontSize": 12, "labelPadding": 8, "labelAlign": "center", "labelBound": false, "labelFlush": false, "labelOverlap": false, "title": "Relative mean square difference (%)", "titleFont": "Liberation Serif", "titleFontWeight": "bold", "titleFontSize": 12.5, "titleColor": "#222222", "titleX": 150.5, "titleY": 26, "titleAlign": "center", "titleBaseline": "middle", "zindex": 1}},
     "y": {"field": "v", "type": "quantitative", "scale": {"domain": [0, 1.3435], "nice": false, "zero": false},
           "axis": {"orient": "right", "values": [0.5, 0.70711, 1, 1.22474], "labelExpr": "datum.value > 1.1 ? '150' : datum.value > 0.9 ? '100' : datum.value > 0.6 ? '50' : '25'", "grid": false, "ticks": true, "tickSize": 5, "tickColor": "#8a8af2", "domainColor": "#8a8af2", "domainWidth": 1.6, "labelColor": "#6d6de0", "labelFontSize": 11, "labelPadding": 1, "labelBaseline": "middle", "labelAlign": "left", "labelBound": false, "labelFlush": false, "labelOverlap": false, "title": "Ratio of variances (%)", "titleFont": "Liberation Serif", "titleFontWeight": "bold", "titleFontSize": 15.5, "titleColor": "#222222", "titleAngle": 90, "titleX": 28.5, "titleY": 150, "titleAlign": "center", "titleBaseline": "middle", "zindex": 1}}
   },
   "layer": [
     {"data": {"name": "redArcs"}, "mark": {"type": "arc", "filled": false, "stroke": "#ff5f5f", "strokeWidth": 1.1, "clip": true},
      "encoding": {"theta": {"field": "t1", "type": "quantitative", "scale": null, "stack": null}, "theta2": {"field": "t2"}, "radius": {"field": "r", "type": "quantitative", "scale": {"type": "linear", "domain": [0, 1], "range": [0, 263.2]}}, "radius2": {"field": "r"}}},
     {"data": {"name": "stdArcs"}, "mark": {"type": "arc", "filled": false, "stroke": "#7878ee", "strokeWidth": 1, "strokeDash": [6, 4], "clip": true},
      "encoding": {"theta": {"field": "t1", "type": "quantitative", "scale": null, "stack": null}, "theta2": {"field": "t2"}, "radius": {"field": "r", "type": "quantitative", "scale": {"type": "linear", "domain": [0, 1], "range": [0, 263.2]}}}},
     {"data": {"name": "refArc"}, "mark": {"type": "arc", "filled": false, "stroke": "#3a3ab8", "strokeWidth": 2, "strokeDash": [3, 2.5], "clip": true},
      "encoding": {"theta": {"field": "t1", "type": "quantitative", "scale": null, "stack": null}, "theta2": {"field": "t2"}, "radius": {"field": "r", "type": "quantitative", "scale": {"type": "linear", "domain": [0, 1], "range": [0, 263.2]}}}},
     {"data": {"name": "corr"}, "mark": {"type": "rule", "stroke": "#dd5fdd", "strokeWidth": 1, "clip": true},
      "encoding": {"x2": {"field": "u2"}, "y2": {"field": "v2"}}},
     {"data": {"name": "corr"}, "mark": {"type": "text", "align": "left", "baseline": "middle", "dx": 5, "dy": -2, "font": "Liberation Sans", "fontSize": 12, "color": "#e070e0"},
      "encoding": {"text": {"field": "label", "type": "nominal"}}},
     {"data": {"name": "corrTitle"}, "mark": {"type": "text", "align": "center", "baseline": "middle", "angle": 316, "font": "Liberation Serif", "fontWeight": "bold", "fontSize": 14, "color": "#222222"},
      "encoding": {"text": {"field": "label", "type": "nominal"}}},
     {"data": {"name": "markers"}, "transform": [{"filter": "datum.model == 'U8' && datum.variable == 'VORT' && datum.style == 'open'"}],
      "mark": {"type": "point", "fill": "white", "stroke": "black", "strokeWidth": 1.2, "size": 115, "opacity": 1},
      "encoding": {"shape": {"field": "symbol", "type": "nominal", "scale": {"domain": ["square", "triangle", "circle"], "range": ["square", "triangle-up", "circle"]}, "legend": null}}},
     {"data": {"name": "markers"}, "transform": [{"filter": "datum.model == 'U8' && datum.variable == 'VORT' && datum.style == 'filled'"}],
      "mark": {"type": "point", "filled": true, "color": "black", "size": 90, "opacity": 1},
      "encoding": {"shape": {"field": "symbol", "type": "nominal", "scale": {"domain": ["square", "triangle", "circle"], "range": ["square", "triangle-up", "circle"]}, "legend": null}}}
   ]},
  {"width": 253.6, "height": 353.6, "view": {"stroke": null},
   "data": {"values": [{"lines": ["500-hPa", "relative", "vorticity"]}]},
   "mark": {"type": "text", "align": "center", "baseline": "middle", "font": "Liberation Serif", "fontSize": 30.5, "lineHeight": 36, "dx": 6.3, "dy": -12, "color": "#111111"},
   "encoding": {"text": {"field": "lines", "type": "nominal"}}},
  {"width": 346.4, "height": 353.6,
   "encoding": {
     "x": {"field": "u", "type": "quantitative", "scale": {"domain": [0, 1.3162], "reverse": true, "nice": false, "zero": false},
           "axis": {"orient": "bottom", "values": [1.3162, 1, 0.9, 0.77639, 0.68377, 0.5, 0.29289, 0], "labelExpr": "datum.value > 1.2 ? '10' : datum.value > 0.95 ? '0' : datum.value > 0.85 ? '1' : datum.value > 0.73 ? '5' : datum.value > 0.6 ? '10' : datum.value > 0.4 ? '25' : datum.value > 0.2 ? '50' : '100'", "ticks": false, "grid": false, "domainColor": "#ff7f7f", "domainWidth": 1.6, "labelColor": "#ff7373", "labelFontSize": 12, "labelPadding": 8, "labelAlign": "center", "labelBound": false, "labelFlush": false, "labelOverlap": false, "title": "Relative mean square difference (%)", "titleFont": "Liberation Serif", "titleFontWeight": "bold", "titleFontSize": 12.5, "titleColor": "#222222", "titleX": 150.5, "titleY": 26, "titleAlign": "center", "titleBaseline": "middle", "zindex": 1}},
     "y": {"field": "v", "type": "quantitative", "scale": {"domain": [0, 1.3435], "nice": false, "zero": false},
           "axis": {"orient": "right", "values": [0.5, 0.70711, 1, 1.22474], "labelExpr": "datum.value > 1.1 ? '150' : datum.value > 0.9 ? '100' : datum.value > 0.6 ? '50' : '25'", "grid": false, "ticks": true, "tickSize": 5, "tickColor": "#8a8af2", "domainColor": "#8a8af2", "domainWidth": 1.6, "labelColor": "#6d6de0", "labelFontSize": 11, "labelPadding": 1, "labelBaseline": "middle", "labelAlign": "left", "labelBound": false, "labelFlush": false, "labelOverlap": false, "title": "Ratio of variances (%)", "titleFont": "Liberation Serif", "titleFontWeight": "bold", "titleFontSize": 15.5, "titleColor": "#222222", "titleAngle": 90, "titleX": 28.5, "titleY": 150, "titleAlign": "center", "titleBaseline": "middle", "zindex": 1}}
   },
   "layer": [
     {"data": {"name": "redArcs"}, "mark": {"type": "arc", "filled": false, "stroke": "#ff5f5f", "strokeWidth": 1.1, "clip": true},
      "encoding": {"theta": {"field": "t1", "type": "quantitative", "scale": null, "stack": null}, "theta2": {"field": "t2"}, "radius": {"field": "r", "type": "quantitative", "scale": {"type": "linear", "domain": [0, 1], "range": [0, 263.2]}}, "radius2": {"field": "r"}}},
     {"data": {"name": "stdArcs"}, "mark": {"type": "arc", "filled": false, "stroke": "#7878ee", "strokeWidth": 1, "strokeDash": [6, 4], "clip": true},
      "encoding": {"theta": {"field": "t1", "type": "quantitative", "scale": null, "stack": null}, "theta2": {"field": "t2"}, "radius": {"field": "r", "type": "quantitative", "scale": {"type": "linear", "domain": [0, 1], "range": [0, 263.2]}}}},
     {"data": {"name": "refArc"}, "mark": {"type": "arc", "filled": false, "stroke": "#3a3ab8", "strokeWidth": 2, "strokeDash": [3, 2.5], "clip": true},
      "encoding": {"theta": {"field": "t1", "type": "quantitative", "scale": null, "stack": null}, "theta2": {"field": "t2"}, "radius": {"field": "r", "type": "quantitative", "scale": {"type": "linear", "domain": [0, 1], "range": [0, 263.2]}}}},
     {"data": {"name": "corr"}, "mark": {"type": "rule", "stroke": "#dd5fdd", "strokeWidth": 1, "clip": true},
      "encoding": {"x2": {"field": "u2"}, "y2": {"field": "v2"}}},
     {"data": {"name": "corr"}, "mark": {"type": "text", "align": "left", "baseline": "middle", "dx": 5, "dy": -2, "font": "Liberation Sans", "fontSize": 12, "color": "#e070e0"},
      "encoding": {"text": {"field": "label", "type": "nominal"}}},
     {"data": {"name": "corrTitle"}, "mark": {"type": "text", "align": "center", "baseline": "middle", "angle": 316, "font": "Liberation Serif", "fontWeight": "bold", "fontSize": 14, "color": "#222222"},
      "encoding": {"text": {"field": "label", "type": "nominal"}}},
     {"data": {"name": "markers"}, "transform": [{"filter": "datum.model == 'U2' && datum.variable == 'VORT' && datum.style == 'open'"}],
      "mark": {"type": "point", "fill": "white", "stroke": "black", "strokeWidth": 1.2, "size": 115, "opacity": 1},
      "encoding": {"shape": {"field": "symbol", "type": "nominal", "scale": {"domain": ["square", "triangle", "circle"], "range": ["square", "triangle-up", "circle"]}, "legend": null}}},
     {"data": {"name": "markers"}, "transform": [{"filter": "datum.model == 'U2' && datum.variable == 'VORT' && datum.style == 'filled'"}],
      "mark": {"type": "point", "filled": true, "color": "black", "size": 90, "opacity": 1},
      "encoding": {"shape": {"field": "symbol", "type": "nominal", "scale": {"domain": ["square", "triangle", "circle"], "range": ["square", "triangle-up", "circle"]}, "legend": null}}}
   ]}
]
}
